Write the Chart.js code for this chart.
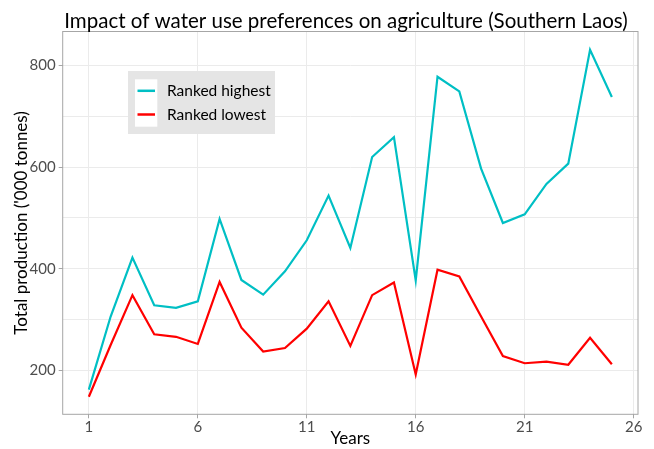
<!DOCTYPE html>
<html>
<head>
<meta charset="utf-8">
<script src="https://cdn.jsdelivr.net/npm/chart.js@4"></script>
<style>
  body { margin: 0; background: #fff; }
</style>
</head>
<body>
<canvas id="myChart" width="654" height="449"></canvas>
<script>
const years = [1, 2, 3, 4, 5, 6, 7, 8, 9, 10, 11, 12, 13, 14, 15, 16, 17, 18, 19, 20, 21, 22, 23, 24, 25]
const rankedHighest = [162, 306, 422, 328, 323, 336, 498, 378, 349, 395, 456, 544, 441, 620, 659, 377, 778, 749, 597, 490, 507, 567, 607, 831, 738]
const rankedLowest = [148, 250, 348, 271, 266, 252, 374, 284, 237, 244, 282, 336, 248, 348, 373, 192, 398, 385, 306, 228, 214, 217, 211, 264, 212]
const xTicks = [1, 6, 11, 16, 21, 26]
const yTicks = [200, 300, 400, 500, 600, 700, 800]
const yLabelled = [200, 400, 600, 800]
const chartTitle = 'Impact of water use preferences on agriculture (Southern Laos)'

const fontName = 'Lato, "Open Sans", sans-serif'
const borderGrey = '#a6a6a6'

// grey panel border on top of the lines, plus the title centred on the panel
const panelBorder = {
  id: 'panelBorder',
  afterDatasetsDraw(chart) {
    const a = chart.chartArea
    const c = chart.ctx
    c.save()
    c.strokeStyle = borderGrey
    c.lineWidth = 1
    c.strokeRect(a.left, a.top, a.right - a.left, a.bottom - a.top)
    c.fillStyle = '#000'
    c.font = '20.5px ' + fontName
    c.textAlign = 'center'
    c.textBaseline = 'alphabetic'
    c.fillText(chartTitle, 346, 27.5)
    c.restore()
  },
}

// ggplot style legend box inside the panel
const legendBox = {
  id: 'legendBox',
  afterDraw(chart) {
    const c = chart.ctx
    c.save()
    c.fillStyle = '#e5e5e5'
    c.fillRect(128, 71, 147, 63)
    chart.data.datasets.forEach((ds, i) => {
      const top = 79.3 + i * 23.7
      c.fillStyle = '#fff'
      c.fillRect(135, top, 22.3, 23.7)
      c.strokeStyle = ds.borderColor
      c.lineWidth = 2.5
      c.beginPath()
      c.moveTo(137.5, top + 11.5)
      c.lineTo(155, top + 11.5)
      c.stroke()
      c.fillStyle = '#000'
      c.font = '15.5px ' + fontName
      c.textBaseline = 'middle'
      c.fillText(ds.label, 167, top + 12)
    })
    c.restore()
  },
}

const ctx = document.getElementById('myChart').getContext('2d')

const myChart = new Chart(ctx, {
  type: 'line',
  data: {
    datasets: [
      {
        label: 'Ranked highest',
        data: years.map((yr, i) => ({ x: yr, y: rankedHighest[i] })),
        borderColor: '#00BFC4',
        borderWidth: 2.2,
        pointRadius: 0,
        tension: 0,
      },
      {
        label: 'Ranked lowest',
        data: years.map((yr, i) => ({ x: yr, y: rankedLowest[i] })),
        borderColor: '#FF0000',
        borderWidth: 2.2,
        pointRadius: 0,
        tension: 0,
      },
    ],
  },
  options: {
    responsive: false,
    animation: false,
    layout: { padding: { left: 0, right: 16, top: 31.5, bottom: 0 } },
    scales: {
      x: {
        type: 'linear',
        min: -0.2,
        max: 26.2,
        afterBuildTicks: (scale) => {
          scale.ticks = xTicks.map((v) => ({ value: v }))
        },
        afterFit: (scale) => {
          scale.height = 34.7
        },
        ticks: {
          color: '#4d4d4d',
          font: { family: fontName, size: 15 },
          padding: 0,
          maxRotation: 0,
        },
        grid: { color: '#ebebeb', tickColor: borderGrey, tickLength: 4 },
        border: { display: false },
        title: {
          display: true,
          text: 'Years',
          color: '#000',
          font: { family: fontName, size: 17 },
          padding: 0,
        },
      },
      y: {
        type: 'linear',
        min: 113.5,
        max: 867,
        afterBuildTicks: (scale) => {
          scale.ticks = yTicks.map((v) => ({ value: v }))
        },
        afterFit: (scale) => {
          scale.width = 62.7
        },
        ticks: {
          color: '#4d4d4d',
          font: { family: fontName, size: 15 },
          padding: 3,
          callback: function (value) {
            return yLabelled.includes(value) ? value : ''
          },
        },
        grid: {
          color: '#ebebeb',
          tickLength: 4,
          tickColor: (c) => (c.tick && yLabelled.includes(c.tick.value) ? borderGrey : 'rgba(0,0,0,0)'),
        },
        border: { display: false },
        title: {
          display: true,
          text: "Total production ('000 tonnes)",
          color: '#000',
          font: { family: fontName, size: 17 },
          padding: { top: 11, bottom: 0 },
        },
      },
    },
    plugins: {
      legend: { display: false },
      tooltip: { enabled: false },
    },
  },
  plugins: [panelBorder, legendBox],
})
</script>
</body>
</html>
